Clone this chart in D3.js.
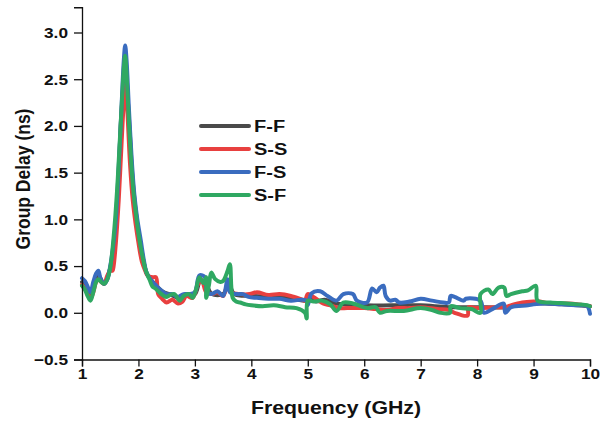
<!DOCTYPE html>
<html>
<head>
<meta charset="utf-8">
<script src="https://cdn.jsdelivr.net/npm/d3@7"></script>
<style>
  html, body { margin: 0; padding: 0; background: #fff; }
  svg { display: block; }
  text { font-family: "Liberation Sans", Arial, sans-serif; font-weight: bold; fill: #111; }
</style>
</head>
<body>
<svg id="chart" width="607" height="421"></svg>
<script>
// Group delay measurements, frequency in GHz, delay in ns
const ffFreq  = [1.0, 1.15, 1.29, 1.39, 1.5, 1.6, 1.65, 1.7, 1.765, 1.83, 1.9, 1.98, 2.06, 2.15, 2.3, 2.45, 2.55, 2.7, 2.85, 3.0, 3.1, 3.2, 3.3, 3.5, 3.6, 3.7, 4.0, 4.5, 4.95, 5.05, 5.15, 5.3, 5.5, 6.0, 6.5, 7.0, 7.5, 8.0, 8.5, 9.0, 9.5, 10.0];
const ffDelay = [0.33, 0.2, 0.4, 0.31, 0.48, 0.95, 1.5, 2.15, 2.6, 2.1, 1.4, 0.95, 0.65, 0.42, 0.3, 0.22, 0.2, 0.16, 0.2, 0.2, 0.35, 0.3, 0.2, 0.2, 0.3, 0.2, 0.18, 0.17, 0.13, 0.15, 0.12, 0.14, 0.1, 0.08, 0.08, 0.08, 0.06, 0.06, 0.06, 0.1, 0.09, 0.07];

const ssFreq  = [1.0, 1.05, 1.1, 1.15, 1.2, 1.25, 1.29, 1.34, 1.39, 1.45, 1.5, 1.54, 1.56, 1.6, 1.65, 1.7, 1.74, 1.77, 1.8, 1.85, 1.9, 1.95, 2.0, 2.06, 2.12, 2.16, 2.25, 2.31, 2.35, 2.42, 2.5, 2.6, 2.7, 2.78, 2.85, 2.96, 3.05, 3.12, 3.2, 3.3, 3.4, 3.5, 3.58, 3.65, 3.8, 3.97, 4.1, 4.3, 4.5, 4.7, 4.9, 4.95, 5.0, 5.1, 5.27, 5.4, 5.55, 5.7, 6.0, 6.2, 6.4, 6.6, 6.8, 7.0, 7.3, 7.5, 7.6, 7.83, 7.85, 8.0, 8.3, 8.5, 8.6, 8.8, 9.0, 9.1, 9.3, 9.6, 9.8, 10.0];
const ssDelay = [0.3, 0.26, 0.2, 0.15, 0.22, 0.33, 0.36, 0.33, 0.31, 0.4, 0.45, 0.45, 0.5, 0.75, 1.2, 1.8, 2.25, 2.45, 2.2, 1.6, 1.2, 0.95, 0.75, 0.55, 0.45, 0.4, 0.38, 0.38, 0.2, 0.15, 0.11, 0.14, 0.1, 0.12, 0.18, 0.16, 0.3, 0.35, 0.22, 0.2, 0.22, 0.18, 0.3, 0.22, 0.2, 0.2, 0.22, 0.19, 0.2, 0.18, 0.14, 0.13, 0.2, 0.17, 0.1, 0.08, 0.05, 0.05, 0.05, 0.04, 0.03, 0.05, 0.05, 0.06, 0.04, 0.03, 0.0, -0.03, 0.06, 0.05, 0.06, 0.06, 0.08, 0.11, 0.12, 0.12, 0.1, 0.1, 0.09, 0.07];

const fsFreq  = [1.0, 1.05, 1.1, 1.15, 1.2, 1.25, 1.29, 1.33, 1.39, 1.45, 1.5, 1.55, 1.6, 1.65, 1.7, 1.74, 1.765, 1.79, 1.83, 1.88, 1.93, 1.98, 2.04, 2.1, 2.15, 2.22, 2.3, 2.4, 2.5, 2.6, 2.7, 2.8, 2.9, 3.0, 3.08, 3.18, 3.22, 3.3, 3.4, 3.5, 3.58, 3.62, 3.75, 3.85, 3.95, 4.1, 4.3, 4.5, 4.7, 4.9, 4.98, 5.0, 5.07, 5.22, 5.35, 5.51, 5.63, 5.8, 5.87, 6.05, 6.14, 6.22, 6.28, 6.34, 6.38, 6.46, 6.55, 6.62, 6.8, 7.0, 7.2, 7.4, 7.5, 7.53, 7.6, 7.76, 7.8, 8.06, 8.12, 8.3, 8.47, 8.5, 8.6, 8.9, 9.0, 9.2, 9.5, 9.8, 9.95, 10.0];
const fsDelay = [0.37, 0.34, 0.28, 0.22, 0.33, 0.42, 0.45, 0.36, 0.31, 0.36, 0.5, 0.7, 1.0, 1.55, 2.2, 2.7, 2.86, 2.7, 2.2, 1.65, 1.25, 1.0, 0.78, 0.55, 0.42, 0.35, 0.3, 0.24, 0.2, 0.2, 0.17, 0.2, 0.2, 0.22, 0.4, 0.38, 0.22, 0.2, 0.23, 0.18, 0.36, 0.22, 0.2, 0.2, 0.17, 0.16, 0.15, 0.15, 0.13, 0.14, 0.13, 0.08, 0.21, 0.23, 0.18, 0.13, 0.2, 0.2, 0.13, 0.11, 0.26, 0.22, 0.27, 0.29, 0.18, 0.13, 0.14, 0.11, 0.12, 0.15, 0.13, 0.11, 0.11, 0.18, 0.17, 0.13, 0.15, 0.13, 0.0, 0.05, 0.1, 0.0, 0.06, 0.08, 0.09, 0.1, 0.09, 0.08, 0.07, -0.01];

const sfFreq  = [1.0, 1.05, 1.1, 1.15, 1.2, 1.25, 1.29, 1.34, 1.39, 1.45, 1.5, 1.57, 1.62, 1.66, 1.71, 1.745, 1.765, 1.79, 1.83, 1.87, 1.91, 1.955, 2.0, 2.04, 2.09, 2.13, 2.2, 2.25, 2.3, 2.37, 2.43, 2.49, 2.56, 2.64, 2.73, 2.8, 2.9, 2.96, 3.02, 3.08, 3.15, 3.2, 3.2, 3.25, 3.29, 3.36, 3.45, 3.5, 3.58, 3.62, 3.67, 3.73, 3.8, 3.9, 4.0, 4.2, 4.4, 4.6, 4.8, 4.95, 4.98, 5.0, 5.1, 5.25, 5.4, 5.51, 5.63, 5.8, 6.05, 6.2, 6.28, 6.4, 6.7, 7.0, 7.2, 7.35, 7.52, 7.53, 7.7, 7.9, 8.06, 8.06, 8.2, 8.27, 8.38, 8.48, 8.52, 8.6, 8.8, 8.9, 9.04, 9.07, 9.3, 9.6, 9.8, 9.95, 10.0];
const sfDelay = [0.29, 0.25, 0.18, 0.13, 0.22, 0.33, 0.36, 0.33, 0.31, 0.36, 0.48, 0.88, 1.3, 1.73, 2.3, 2.65, 2.75, 2.55, 2.05, 1.63, 1.3, 1.06, 0.85, 0.7, 0.55, 0.45, 0.35, 0.28, 0.26, 0.22, 0.19, 0.17, 0.19, 0.2, 0.13, 0.18, 0.2, 0.16, 0.25, 0.38, 0.32, 0.38, 0.16, 0.3, 0.43, 0.36, 0.33, 0.34, 0.45, 0.52, 0.16, 0.12, 0.11, 0.09, 0.08, 0.07, 0.08, 0.06, 0.05, 0.0, -0.06, 0.13, 0.12, 0.13, 0.09, 0.02, 0.11, 0.1, 0.05, 0.06, 0.0, 0.02, 0.02, 0.05, 0.03, 0.0, 0.0, 0.07, 0.05, 0.04, 0.0, 0.2, 0.25, 0.2, 0.27, 0.27, 0.18, 0.2, 0.23, 0.24, 0.29, 0.13, 0.11, 0.1, 0.09, 0.08, 0.07];

const seriesNames  = ["F-F", "S-S", "F-S", "S-F"];
const seriesColors = ["#4a4a4a", "#e8403f", "#3a6cbf", "#2fa862"];
const xTickValues  = [1, 2, 3, 4, 5, 6, 7, 8, 9, 10];
const yTickValues  = [-0.5, 0.0, 0.5, 1.0, 1.5, 2.0, 2.5, 3.0];

const svg = d3.select("#chart");
const left = 82, right = 590, bottom = 359.5, top3 = 32.5;

const x = d3.scaleLinear().domain([1, 10]).range([left, right]);
const y = d3.scaleLinear().domain([-0.5, 3.0]).range([bottom, top3]);
const yTop = 3.27;

// one path per measurement configuration
const series = [
  { freq: ffFreq, delay: ffDelay },
  { freq: ssFreq, delay: ssDelay },
  { freq: fsFreq, delay: fsDelay },
  { freq: sfFreq, delay: sfDelay }
];

const line = d3.line()
  .x(d => x(d[0]))
  .y(d => y(d[1]))
  .curve(d3.curveCatmullRom.alpha(0.5));

const plot = svg.append("g");
series.forEach((s, i) => {
  const pts = s.freq.map((f, k) => [f, s.delay[k]]);
  plot.append("path")
    .attr("d", line(pts))
    .attr("fill", "none")
    .attr("stroke", seriesColors[i])
    .attr("stroke-width", 4)
    .attr("stroke-linejoin", "round")
    .attr("stroke-linecap", "round");
});

// axes
const stretch = 1.15;
const xAxisG = svg.append("g").attr("transform", `translate(0,${bottom})`);
xAxisG.call(d3.axisBottom(x).tickValues(d3.range(1, 10.01, 0.5)).tickSize(3).tickFormat(""));
xAxisG.call(d3.axisBottom(x).tickValues(xTickValues).tickSize(7).tickPadding(2).tickFormat(d3.format("d")));
xAxisG.selectAll("text")
  .attr("font-size", 15)
  .attr("dy", "0.71em")
  .attr("transform", `scale(${stretch},1)`)
  .attr("x", 0);

const yFull = d3.scaleLinear().domain([-0.5, yTop]).range([bottom, y(yTop)]);
const yAxisG = svg.append("g").attr("transform", `translate(${left},0)`);
yAxisG.call(d3.axisLeft(yFull).tickValues(d3.range(-0.5, 3.26, 0.25)).tickSize(4).tickFormat(""));
yAxisG.call(d3.axisLeft(yFull).tickValues(yTickValues).tickSize(8).tickPadding(6).tickFormat(d3.format(".1f")));
yAxisG.selectAll("text")
  .attr("font-size", 15)
  .attr("x", -14 / stretch)
  .attr("transform", `scale(${stretch},1)`);

svg.selectAll(".domain").attr("stroke", "#111").attr("stroke-width", 1.3);
svg.selectAll(".tick line").attr("stroke", "#111").attr("stroke-width", 1.3);
svg.selectAll("g.tick text").attr("fill", "#111");

// axis titles
svg.append("text")
  .attr("transform", `translate(336,414) scale(1.12,1)`)
  .attr("text-anchor", "middle")
  .attr("font-size", 19)
  .text("Frequency (GHz)");

svg.append("text")
  .attr("transform", `translate(30,179) rotate(-90) scale(1,1.2)`)
  .attr("text-anchor", "middle")
  .attr("font-size", 17.5)
  .text("Group Delay (ns)");

// legend
const legendY = [126, 149, 172, 195];
const legend = svg.append("g");
seriesNames.forEach((name, i) => {
  legend.append("line")
    .attr("x1", 201).attr("x2", 249)
    .attr("y1", legendY[i]).attr("y2", legendY[i])
    .attr("stroke", seriesColors[i])
    .attr("stroke-width", 4)
    .attr("stroke-linecap", "round");
  legend.append("text")
    .attr("transform", `translate(254,${legendY[i]}) scale(1.25,1)`)
    .attr("dy", "0.36em")
    .attr("font-size", 16)
    .text(name);
});
</script>
</body>
</html>
